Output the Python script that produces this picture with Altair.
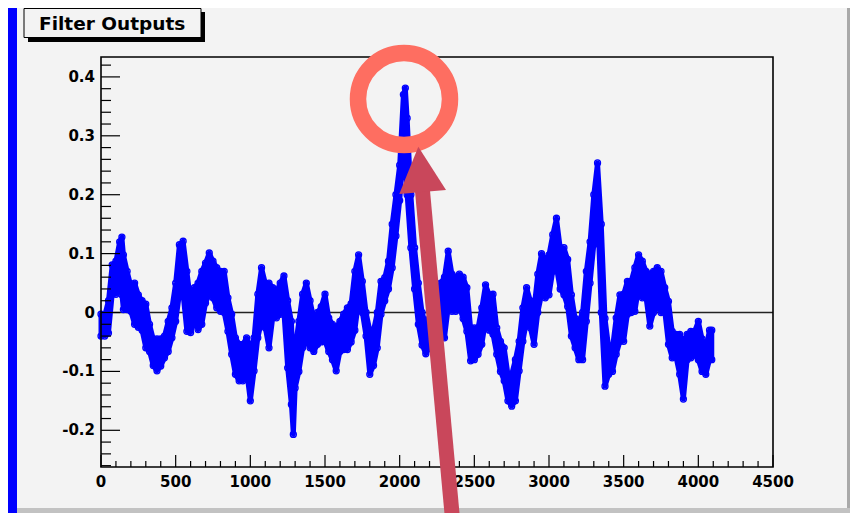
import altair as alt
import pandas as pd

# ---- data: envelope (lower / upper) of the filter output band ----
X = [0, 25, 50, 75, 100, 125, 140, 150, 175, 200, 225, 250, 275, 300, 325, 350, 375, 400, 425, 450,
     475, 500, 525, 550, 575, 600, 625, 650, 675, 700, 725, 750, 775, 800, 825, 850, 875, 900, 925, 950,
     975, 1000, 1025, 1050, 1075, 1100,
     1125, 1150, 1175, 1200, 1225, 1250, 1275, 1288, 1300, 1325, 1350, 1375, 1400, 1425, 1450, 1475,
     1500, 1525, 1550, 1575, 1600, 1625, 1650, 1675, 1700, 1725, 1750, 1775, 1800, 1825, 1850, 1875,
     1900, 1925, 1950, 1975, 2000, 2025, 2038, 2050, 2075, 2100, 2125, 2150, 2175, 2200, 2225, 2250,
     2275, 2300, 2325, 2350, 2375, 2400, 2425, 2450, 2475, 2500, 2525, 2550, 2575, 2600, 2625, 2650,
     2675, 2700, 2725, 2750, 2775, 2800, 2825, 2850, 2875, 2900, 2925, 2950, 2975, 3000, 3025, 3050,
     3075, 3100, 3125, 3150, 3175, 3200, 3225, 3250, 3275, 3300, 3325, 3350, 3375,
     3400, 3425, 3450, 3475, 3500, 3525, 3550, 3575, 3600, 3625, 3650, 3675, 3700, 3725, 3750, 3775,
     3800, 3825, 3850, 3875, 3900, 3925, 3950, 3975, 4000, 4025, 4050, 4075, 4090]
LO = [-0.040, -0.040, -0.035, 0.031, 0.031, 0.040, 0.030, 0.005, 0.005, 0.002, -0.020, -0.025, -0.030,
      -0.060, -0.066, -0.090, -0.099, -0.091, -0.077, -0.066, -0.043, -0.015, 0.031, 0.030, -0.032,
      -0.034, -0.015, -0.029, -0.020, 0.016, 0.031, 0.025, 0.008, 0.002, 0.000, -0.032, -0.071, -0.105,
      -0.116, -0.116, -0.099, -0.150, -0.099, -0.043, -0.015, -0.026,
      -0.060, -0.009, -0.009, -0.003, 0.000, -0.094, -0.156, -0.207, -0.128, -0.100, -0.060, -0.049,
      -0.060, -0.066, -0.054, -0.050, -0.049, -0.066, -0.080, -0.099, -0.066, -0.063, -0.063, -0.050,
      -0.030, 0.019, 0.000, -0.040, -0.105, -0.090, -0.060, -0.003, 0.020, 0.040, 0.076, 0.130, 0.190,
      0.270, 0.260, 0.200, 0.110, 0.040, -0.020, -0.055, -0.070, -0.060, -0.050, -0.030,
      -0.040, -0.043, 0.008, 0.002, 0.002, 0.008, -0.010, -0.032, -0.082, -0.080, -0.071, -0.054,
      -0.015, -0.030, -0.037, -0.071, -0.100, -0.116, -0.150, -0.159, -0.150, -0.099, -0.049, -0.015,
      -0.026, -0.054, 0.000, 0.030, 0.025, 0.030, 0.070, 0.076, 0.040, 0.030, 0.010, -0.040, -0.060,
      -0.080, -0.080, -0.015, 0.050, 0.115, 0.180, 0.000, -0.125,
      -0.105, -0.100, -0.071, -0.049, -0.049, -0.003, 0.000, 0.002, 0.042, 0.025, 0.025, -0.023, 0.000,
      0.010, 0.000, 0.002, -0.054, -0.077, -0.075, -0.105, -0.147, -0.080, -0.077, -0.072, -0.080,
      -0.100, -0.105, -0.080, -0.080]
HI = [-0.003, -0.005, 0.020, 0.081, 0.087, 0.120, 0.128, 0.098, 0.070, 0.045, 0.050, 0.030, 0.020,
      0.014, -0.020, -0.045, -0.045, -0.045, -0.040, -0.015, 0.008, 0.050, 0.115, 0.121, 0.070, 0.019,
      0.042, 0.050, 0.070, 0.084, 0.101, 0.087, 0.076, 0.070, 0.070, 0.025, -0.003, -0.043, -0.054,
      -0.054, -0.043, -0.060, -0.043, 0.031, 0.076, 0.050,
      0.050, 0.042, 0.035, 0.050, 0.062, 0.020, -0.015, -0.090, -0.060, -0.015, 0.031, 0.050, 0.020,
      -0.010, 0.000, 0.010, 0.031, -0.009, -0.020, -0.026, -0.015, -0.003, 0.008, 0.015, 0.070, 0.098,
      0.053, 0.000, -0.030, -0.030, 0.000, 0.053, 0.059, 0.087, 0.150, 0.200, 0.250, 0.370, 0.381,
      0.330, 0.200, 0.110, 0.050, 0.000, -0.020, -0.010, 0.020, 0.040,
      0.050, 0.060, 0.104, 0.065, 0.060, 0.065, 0.060, 0.042, -0.026, -0.026, -0.026, 0.008, 0.047,
      0.030, 0.031, -0.026, -0.049, -0.060, -0.105, -0.105, -0.080, -0.049, 0.008, 0.042, 0.020, 0.008,
      0.065, 0.100, 0.090, 0.098, 0.132, 0.160, 0.110, 0.110, 0.090, 0.030, -0.010, -0.015, 0.000,
      0.070, 0.120, 0.200, 0.254, 0.150, -0.010,
      -0.060, -0.060, -0.009, 0.030, 0.031, 0.053, 0.053, 0.076, 0.098, 0.087, 0.070, 0.065, 0.070,
      0.076, 0.070, 0.042, 0.019, -0.032, -0.037, -0.037, -0.050, -0.037, -0.032, -0.032, -0.015,
      -0.045, -0.060, -0.030, -0.030]

TITLE = "Filter Outputs"
X_MAJOR = [0, 500, 1000, 1500, 2000, 2500, 3000, 3500, 4000, 4500]
X_LABELS = ["0", "500", "1000", "1500", "2000", "2500", "3000", "3500", "4000", "4500"]
X_MINOR = [v for v in range(0, 4501, 100) if v % 500 != 0]
Y_MAJOR = [-0.2, -0.1, 0.0, 0.1, 0.2, 0.3, 0.4]
Y_LABELS = ["-0.2", "-0.1", "0", "0.1", "0.2", "0.3", "0.4"]
Y_MINOR = [round(-0.26 + 0.02 * i, 2) for i in range(35) if (i + 2) % 5 != 0]
PEAK = {"x": [2029], "y": [0.3625]}

# ---- styling ----
W, H = 672, 410
BLUE = "#0000ff"
PANEL = "#f3f3f3"
RING = "#fe6e61"
ARROW = "#c9475b"
FONT = "DejaVu Sans"

xs = alt.Scale(domain=[0, 4500], nice=False, zero=False)
ys = alt.Scale(domain=[-0.2623, 0.4338], nice=False, zero=False)
one = pd.DataFrame({"k": [0]})


def rect(x1, x2, y1, y2, **kw):
    return alt.Chart(one).mark_rect(clip=False, **kw).encode(
        x=alt.value(x1), x2=alt.value(x2), y=alt.value(y1), y2=alt.value(y2))


bottom_strip = rect(-84, 749, 451, 456, color="#c2c2c2")
right_edge = rect(746, 749, -49, 451, color="#a9a9a9")
panel = rect(-84, 746, -49, 451, color=PANEL)

title_shadow = rect(-73, 104, -45, -15, color="black")
title_box = rect(-77, 100, -48.5, -19.5, fill=PANEL, stroke="black", strokeWidth=1)
title_text = alt.Chart(one).mark_text(
    text=TITLE, font=FONT, fontWeight="bold", fontSize=18.5, color="black",
    align="left", baseline="alphabetic", clip=False
).encode(x=alt.value(-62), y=alt.value(-27.5))

zero_line = alt.Chart(pd.DataFrame({"v": [0.0]})).mark_rule(color="#222222", strokeWidth=1.4).encode(
    y=alt.Y("v:Q", scale=ys, axis=None), x=alt.value(0), x2=alt.value(W))

df = pd.DataFrame({"x": X, "lo": LO, "hi": HI})
pts = pd.DataFrame({"x": X + X, "y": LO + HI})

band = alt.Chart(df).mark_area(
    color=BLUE, opacity=1, stroke=BLUE, strokeWidth=5, strokeJoin="round"
).encode(
    x=alt.X("x:Q", scale=xs, axis=None),
    y=alt.Y("lo:Q", scale=ys, axis=None),
    y2="hi:Q")

points = alt.Chart(pts).mark_point(
    shape="circle", filled=False, size=36, strokeWidth=1.3, color=BLUE, opacity=1, clip=False
).encode(x=alt.X("x:Q", scale=xs, axis=None), y=alt.Y("y:Q", scale=ys, axis=None))

frame = rect(0, W, 0, H, fill="transparent", stroke="black", strokeWidth=1.6)

xt_major = alt.Chart(pd.DataFrame({"v": X_MAJOR})).mark_rule(color="black", strokeWidth=1.2).encode(
    x=alt.X("v:Q", scale=xs, axis=None), y=alt.value(H), y2=alt.value(H - 12))
xt_minor = alt.Chart(pd.DataFrame({"v": X_MINOR})).mark_rule(color="black", strokeWidth=1.2).encode(
    x=alt.X("v:Q", scale=xs, axis=None), y=alt.value(H), y2=alt.value(H - 6))
yt_major = alt.Chart(pd.DataFrame({"v": Y_MAJOR})).mark_rule(color="black", strokeWidth=1.2).encode(
    y=alt.Y("v:Q", scale=ys, axis=None), x=alt.value(0), x2=alt.value(19))
yt_minor = alt.Chart(pd.DataFrame({"v": Y_MINOR})).mark_rule(color="black", strokeWidth=1.2).encode(
    y=alt.Y("v:Q", scale=ys, axis=None), x=alt.value(0), x2=alt.value(10))

x_labels = alt.Chart(pd.DataFrame({"v": X_MAJOR, "t": X_LABELS})).mark_text(
    font=FONT, fontWeight="bold", fontSize=15, color="black", align="center",
    baseline="alphabetic", clip=False
).encode(x=alt.X("v:Q", scale=xs, axis=None), y=alt.value(430), text="t:N")

y_labels = alt.Chart(pd.DataFrame({"v": Y_MAJOR, "t": Y_LABELS})).mark_text(
    font=FONT, fontWeight="bold", fontSize=15, color="black", align="right",
    baseline="middle", clip=False
).encode(y=alt.Y("v:Q", scale=ys, axis=None), x=alt.value(-6), text="t:N")

ring = alt.Chart(pd.DataFrame(PEAK)).mark_point(
    shape="circle", filled=False, size=8464, strokeWidth=16.5, color=RING, opacity=1, clip=False
).encode(x=alt.X("x:Q", scale=xs, axis=None), y=alt.Y("y:Q", scale=ys, axis=None))

shaft = alt.Chart(one).mark_rule(color=ARROW, strokeWidth=15, strokeCap="butt", clip=False).encode(
    x=alt.value(321.5), y=alt.value(134), x2=alt.value(351.5), y2=alt.value(462))

head = alt.Chart(one).mark_point(
    shape="M -0.168 -0.932 L 0.94 0.8 L -0.928 0.96 Z", filled=True, size=2500,
    color=ARROW, opacity=1, strokeWidth=0, clip=False
).encode(x=alt.value(321.5), y=alt.value(113))

chart = alt.layer(
    bottom_strip, right_edge, panel, title_shadow, title_box, title_text,
    zero_line, band, points, frame, xt_major, xt_minor, yt_major, yt_minor,
    x_labels, y_labels, ring, shaft, head
).properties(
    width=W, height=H,
    autosize=alt.AutoSizeParams(type="none"),
    padding={"left": 93, "top": 49, "right": 77, "bottom": 46},
).configure(background=BLUE).configure_view(strokeWidth=0)

chart.save("out.html", embed_options={"renderer": "svg", "actions": False})
